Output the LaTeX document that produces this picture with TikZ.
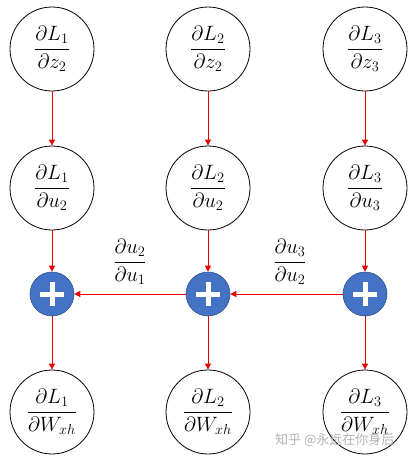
\documentclass[tikz,border=0pt]{standalone}
\usepackage{fontspec}
\usetikzlibrary{arrows.meta}
\newfontfamily\cjk{Noto Sans CJK SC}
\definecolor{plusblue}{RGB}{68,114,196}
\definecolor{plusedge}{RGB}{47,82,143}
\definecolor{arrred}{RGB}{230,0,0}
\begin{document}
\begin{tikzpicture}[x=1pt,y=-1pt,
  grad/.style={circle,draw=black,line width=0.8pt,minimum size=84pt,inner sep=0pt,font=\fontsize{22}{26}\selectfont},
  plusnode/.style={circle,fill=plusblue,draw=plusedge,line width=0.6pt,minimum size=44pt,inner sep=0pt},
  conn/.style={draw=arrred,line width=0.8pt,-{Triangle[length=6pt,width=6pt]}},
  lbl/.style={font=\fontsize{22}{26}\selectfont,inner sep=0pt}]
\useasboundingbox (0,0) rectangle (411,461);
% row 1
\node[grad] (a1) at (52,49) {$\displaystyle\frac{\partial L_1}{\partial z_2}$};
\node[grad] (a2) at (208,49) {$\displaystyle\frac{\partial L_2}{\partial z_2}$};
\node[grad] (a3) at (365,49) {$\displaystyle\frac{\partial L_3}{\partial z_3}$};
% row 2
\node[grad] (b1) at (52,188) {$\displaystyle\frac{\partial L_1}{\partial u_2}$};
\node[grad] (b2) at (208,188) {$\displaystyle\frac{\partial L_2}{\partial u_2}$};
\node[grad] (b3) at (365,188) {$\displaystyle\frac{\partial L_3}{\partial u_3}$};
% plus row
\node[plusnode] (p1) at (52,294) {};
\node[plusnode] (p2) at (208,294) {};
\node[plusnode] (p3) at (365,294) {};
\foreach \p in {p1,p2,p3}{
  \draw[white,line width=5pt] ([xshift=-12pt]\p.center) -- ([xshift=12pt]\p.center);
  \draw[white,line width=5pt] ([yshift=-12pt]\p.center) -- ([yshift=12pt]\p.center);
}
% row 4
\node[grad] (c1) at (52,412) {$\displaystyle\frac{\partial L_1}{\partial W_{xh}}$};
\node[grad] (c2) at (208,412) {$\displaystyle\frac{\partial L_2}{\partial W_{xh}}$};
\node[grad] (c3) at (365,412) {$\displaystyle\frac{\partial L_3}{\partial W_{xh}}$};
% connectors
\foreach \i in {1,2,3}{
  \draw[conn] (a\i) -- (b\i);
  \draw[conn] (b\i) -- (p\i);
  \draw[conn] (p\i) -- (c\i);
}
\draw[conn] (p2) -- (p1);
\draw[conn] (p3) -- (p2);
% labels
\node[lbl] (l1) at (130,262) {$\displaystyle\frac{\partial u_2}{\partial u_1}$};
\node[lbl] (l2) at (290,262) {$\displaystyle\frac{\partial u_3}{\partial u_2}$};
% watermark
\node[text=black!30,font=\cjk\fontsize{13}{15}\selectfont,inner sep=0pt,anchor=west] (wm) at (275,440) {知乎 @永远在你身后};
\end{tikzpicture}
\end{document}
